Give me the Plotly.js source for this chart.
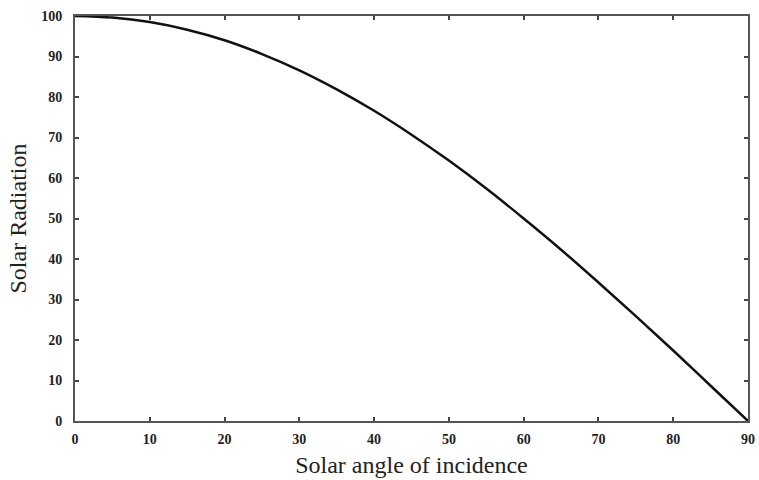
<!DOCTYPE html>
<html><head><meta charset="utf-8">
<script src="https://cdn.plot.ly/plotly-3.0.1.min.js"></script>
<style>html,body{margin:0;padding:0;background:#fff}#plot{width:759px;height:480px}</style>
</head><body><div id="plot"></div>
<script>
var angles = [0, 5, 10, 15, 20, 25, 30, 35, 40, 45, 50, 55, 60, 65, 70, 75, 80, 85, 90];
var radiation = [100, 99.6, 98.5, 96.6, 94, 90.6, 86.6, 81.9, 76.6, 70.7, 64.3, 57.4, 50, 42.3, 34.2, 25.9, 17.4, 8.7, 0];
var xTicks = [0, 10, 20, 30, 40, 50, 60, 70, 80, 90];
var yTicks = [0, 10, 20, 30, 40, 50, 60, 70, 80, 90, 100];

var tickFont = {family: 'Liberation Serif, Times New Roman, serif', size: 14, color: '#222', weight: 'bold'};
var titleFont = {family: 'Liberation Serif, Times New Roman, serif', size: 24, color: '#222'};

Plotly.newPlot('plot', [{
  x: angles, y: radiation, mode: 'lines', type: 'scatter',
  line: {color: '#111', width: 2.5, shape: 'spline'}
}], {
  width: 759, height: 480,
  margin: {l: 75, r: 11, t: 16, b: 59},
  paper_bgcolor: '#fff', plot_bgcolor: '#fff',
  showlegend: false,
  xaxis: {
    range: [0, 90], tickvals: xTicks, ticktext: xTicks.map(String),
    ticks: 'inside', ticklen: 4, tickwidth: 2, tickcolor: '#444',
    showline: true, linecolor: '#555', linewidth: 2, mirror: 'ticks',
    showgrid: false, zeroline: false, tickfont: tickFont, ticklabelstandoff: 4,
    title: {text: 'Solar angle of incidence', font: titleFont, standoff: 10}
  },
  yaxis: {
    range: [0, 100], tickvals: yTicks, ticktext: yTicks.map(String),
    ticks: 'inside', ticklen: 4, tickwidth: 2, tickcolor: '#444',
    showline: true, linecolor: '#555', linewidth: 2, mirror: 'ticks',
    showgrid: false, zeroline: false, tickfont: tickFont, ticklabelstandoff: 8,
    title: {text: 'Solar Radiation', font: titleFont, standoff: 8}
  }
}, {staticPlot: true});
</script></body></html>
